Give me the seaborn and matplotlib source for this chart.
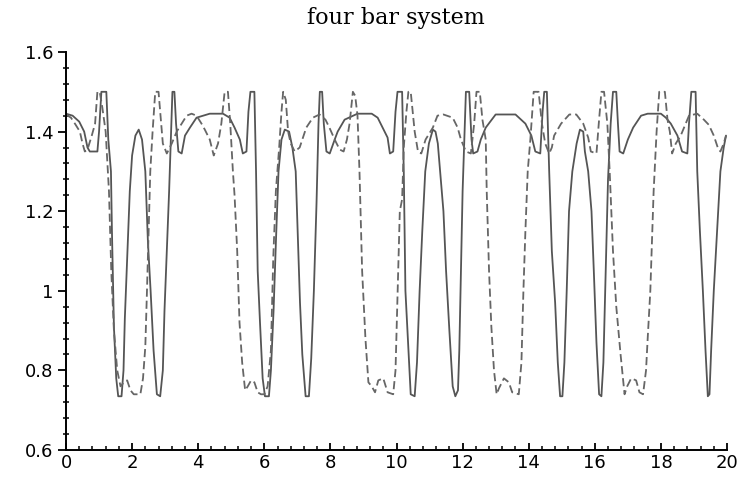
import matplotlib
matplotlib.use("Agg")
import matplotlib.pyplot as plt
from matplotlib.ticker import MultipleLocator
import seaborn as sns
import pandas as pd

title = "four bar system"

solid_pts = [
    (0.0, 1.445), (0.2, 1.44), (0.4, 1.425), (0.55, 1.40), (0.65, 1.36), (0.72, 1.35), (0.95, 1.35),
    (1.0, 1.40), (1.07, 1.50), (1.22, 1.50), (1.28, 1.38), (1.36, 1.30), (1.39, 1.15), (1.45, 0.91),
    (1.52, 0.78), (1.58, 0.735), (1.68, 0.735), (1.74, 0.80), (1.78, 0.93), (1.86, 1.10), (1.93, 1.25),
    (2.0, 1.34), (2.1, 1.39), (2.2, 1.405), (2.3, 1.38), (2.4, 1.30), (2.48, 1.12), (2.56, 1.00),
    (2.65, 0.85), (2.75, 0.74), (2.85, 0.735), (2.93, 0.80), (2.98, 0.95), (3.05, 1.10), (3.12, 1.25),
    (3.18, 1.40), (3.22, 1.50), (3.28, 1.50), (3.33, 1.42), (3.4, 1.35), (3.5, 1.345), (3.6, 1.39),
    (3.75, 1.41), (3.95, 1.435), (4.35, 1.445), (4.75, 1.445), (4.95, 1.435), (5.1, 1.41), (5.26, 1.38),
    (5.35, 1.345), (5.46, 1.35), (5.52, 1.45), (5.58, 1.50), (5.7, 1.50), (5.75, 1.30), (5.8, 1.05),
    (5.87, 0.92), (5.95, 0.78), (6.02, 0.735), (6.14, 0.735), (6.2, 0.80), (6.28, 0.95), (6.35, 1.12),
    (6.43, 1.30), (6.52, 1.38), (6.62, 1.405), (6.75, 1.40), (6.85, 1.36), (6.95, 1.30), (7.02, 1.12),
    (7.08, 0.97), (7.15, 0.84), (7.25, 0.735), (7.35, 0.735), (7.42, 0.83), (7.5, 1.0), (7.58, 1.22),
    (7.64, 1.42), (7.68, 1.50), (7.75, 1.50), (7.8, 1.42), (7.88, 1.35), (7.98, 1.345), (8.13, 1.38),
    (8.22, 1.40), (8.43, 1.43), (8.82, 1.445), (9.25, 1.445), (9.43, 1.435), (9.58, 1.41), (9.73, 1.385),
    (9.8, 1.345), (9.9, 1.35), (9.97, 1.45), (10.03, 1.50), (10.17, 1.50), (10.22, 1.30), (10.27, 1.0),
    (10.35, 0.87), (10.43, 0.74), (10.55, 0.735), (10.62, 0.82), (10.7, 1.0), (10.78, 1.15), (10.87, 1.30),
    (10.98, 1.37), (11.1, 1.405), (11.18, 1.40), (11.25, 1.37), (11.32, 1.30), (11.42, 1.20), (11.5, 1.05),
    (11.6, 0.90), (11.7, 0.76), (11.78, 0.735), (11.86, 0.75), (11.9, 0.85), (11.95, 1.05), (12.0, 1.25),
    (12.06, 1.40), (12.1, 1.50), (12.2, 1.50), (12.27, 1.38), (12.32, 1.345), (12.45, 1.35), (12.55, 1.38),
    (12.7, 1.41), (13.0, 1.443), (13.6, 1.443), (13.9, 1.42), (14.08, 1.39), (14.2, 1.35), (14.35, 1.345),
    (14.42, 1.45), (14.47, 1.50), (14.55, 1.50), (14.62, 1.30), (14.7, 1.10), (14.8, 0.97), (14.88, 0.82),
    (14.95, 0.735), (15.02, 0.735), (15.08, 0.82), (15.15, 1.00), (15.22, 1.20), (15.32, 1.30), (15.45, 1.37),
    (15.55, 1.405), (15.65, 1.40), (15.7, 1.35), (15.8, 1.30), (15.9, 1.20), (15.97, 1.05), (16.05, 0.87),
    (16.13, 0.74), (16.2, 0.735), (16.26, 0.82), (16.33, 1.05), (16.4, 1.28), (16.48, 1.42), (16.55, 1.50),
    (16.65, 1.50), (16.7, 1.42), (16.75, 1.35), (16.86, 1.345), (17.0, 1.38), (17.16, 1.41), (17.4, 1.44),
    (17.6, 1.445), (18.0, 1.445), (18.15, 1.435), (18.3, 1.42), (18.5, 1.39), (18.64, 1.35), (18.8, 1.345),
    (18.85, 1.42), (18.92, 1.50), (19.05, 1.50), (19.1, 1.30), (19.18, 1.15), (19.27, 1.0), (19.35, 0.85),
    (19.42, 0.735), (19.47, 0.74), (19.52, 0.85), (19.6, 1.0), (19.7, 1.15), (19.8, 1.30), (19.9, 1.36),
    (19.97, 1.39),
]

dashed_pts = [
    (0.0, 1.443), (0.15, 1.435), (0.27, 1.42), (0.42, 1.40), (0.5, 1.37), (0.57, 1.35), (0.65, 1.355),
    (0.78, 1.39), (0.88, 1.42), (0.95, 1.50), (1.02, 1.50), (1.1, 1.46), (1.2, 1.40), (1.3, 1.25),
    (1.37, 1.05), (1.45, 0.90), (1.55, 0.80), (1.65, 0.76), (1.75, 0.77), (1.85, 0.775), (1.95, 0.75),
    (2.05, 0.74), (2.25, 0.74), (2.33, 0.78), (2.4, 0.86), (2.45, 1.0), (2.5, 1.15), (2.55, 1.3),
    (2.62, 1.40), (2.7, 1.50), (2.8, 1.50), (2.88, 1.42), (2.93, 1.37), (3.05, 1.345), (3.2, 1.37),
    (3.35, 1.40), (3.5, 1.42), (3.65, 1.44), (3.8, 1.445), (3.95, 1.44), (4.1, 1.42), (4.2, 1.405),
    (4.35, 1.38), (4.47, 1.34), (4.6, 1.37), (4.7, 1.42), (4.8, 1.50), (4.9, 1.50), (4.97, 1.42),
    (5.05, 1.30), (5.1, 1.24), (5.18, 1.10), (5.25, 0.92), (5.33, 0.82), (5.42, 0.75), (5.5, 0.76),
    (5.6, 0.775), (5.7, 0.77), (5.8, 0.745), (5.9, 0.74), (6.0, 0.74), (6.1, 0.76), (6.2, 0.85),
    (6.27, 1.08), (6.35, 1.25), (6.45, 1.36), (6.52, 1.45), (6.57, 1.50), (6.65, 1.48), (6.72, 1.40),
    (6.8, 1.37), (6.92, 1.35), (7.07, 1.36), (7.27, 1.41), (7.47, 1.435), (7.67, 1.443), (7.85, 1.43),
    (7.97, 1.41), (8.13, 1.38), (8.28, 1.355), (8.4, 1.35), (8.5, 1.38), (8.58, 1.42), (8.68, 1.50),
    (8.75, 1.49), (8.82, 1.44), (8.88, 1.30), (8.96, 1.05), (9.06, 0.88), (9.15, 0.77), (9.25, 0.76),
    (9.35, 0.745), (9.45, 0.775), (9.6, 0.78), (9.73, 0.745), (9.9, 0.74), (9.97, 0.80), (10.03, 0.98),
    (10.1, 1.20), (10.17, 1.23), (10.22, 1.36), (10.3, 1.45), (10.36, 1.50), (10.43, 1.50), (10.55, 1.40),
    (10.65, 1.35), (10.75, 1.345), (10.88, 1.38), (11.1, 1.41), (11.24, 1.44), (11.42, 1.443), (11.7, 1.435),
    (11.85, 1.41), (11.95, 1.38), (12.1, 1.35), (12.25, 1.345), (12.35, 1.42), (12.42, 1.50), (12.52, 1.50),
    (12.6, 1.43), (12.7, 1.38), (12.73, 1.25), (12.8, 1.05), (12.87, 0.91), (12.95, 0.80), (13.03, 0.74),
    (13.1, 0.755), (13.25, 0.78), (13.4, 0.77), (13.5, 0.745), (13.7, 0.74), (13.78, 0.82), (13.84, 1.0),
    (13.9, 1.15), (13.97, 1.30), (14.05, 1.38), (14.15, 1.50), (14.3, 1.50), (14.4, 1.42), (14.5, 1.37),
    (14.62, 1.345), (14.7, 1.36), (14.77, 1.39), (14.98, 1.42), (15.23, 1.443), (15.44, 1.443), (15.65, 1.42),
    (15.8, 1.385), (15.88, 1.35), (16.05, 1.345), (16.12, 1.42), (16.2, 1.50), (16.28, 1.50), (16.38, 1.42),
    (16.45, 1.30), (16.55, 1.10), (16.65, 0.96), (16.78, 0.84), (16.9, 0.74), (16.98, 0.76), (17.1, 0.78),
    (17.25, 0.775), (17.35, 0.745), (17.46, 0.74), (17.55, 0.80), (17.6, 0.88), (17.68, 1.0), (17.78, 1.25),
    (17.87, 1.40), (17.95, 1.50), (18.12, 1.50), (18.2, 1.43), (18.27, 1.40), (18.34, 1.345), (18.45, 1.37),
    (18.6, 1.39), (18.7, 1.41), (18.85, 1.44), (19.1, 1.445), (19.3, 1.43), (19.45, 1.417), (19.6, 1.39),
    (19.72, 1.36), (19.8, 1.35), (19.9, 1.37), (19.97, 1.39),
]

x_ticks = [0, 2, 4, 6, 8, 10, 12, 14, 16, 18, 20]
x_tick_labels = ["0", "2", "4", "6", "8", "10", "12", "14", "16", "18", "20"]
y_ticks = [0.6, 0.8, 1.0, 1.2, 1.4, 1.6]
y_tick_labels = ["0.6", "0.8", "1", "1.2", "1.4", "1.6"]

rows = [("solid", x, y) for x, y in solid_pts] + [("dashed", x, y) for x, y in dashed_pts]
df = pd.DataFrame(rows, columns=["series", "t", "value"])

sns.set_theme(style="white")
plt.rcParams["font.family"] = ["DejaVu Sans"]

fig = plt.figure(figsize=(7.45, 4.82), dpi=100)
ax = fig.add_axes([66 / 745, 1 - 450 / 482, (727 - 66) / 745, (450 - 52) / 482])

sns.lineplot(data=df, x="t", y="value", hue="series", style="series",
             palette={"solid": "#555555", "dashed": "#666666"},
             dashes={"solid": "", "dashed": (4.5, 2.2)},
             sort=False, estimator=None, legend=False, linewidth=1.3, ax=ax)

ax.set_xlim(0, 20)
ax.set_ylim(0.6, 1.6)
ax.set_xlabel("")
ax.set_ylabel("")
ax.set_xticks(x_ticks)
ax.set_xticklabels(x_tick_labels)
ax.set_yticks(y_ticks)
ax.set_yticklabels(y_tick_labels)
ax.xaxis.set_minor_locator(MultipleLocator(0.4))
ax.yaxis.set_minor_locator(MultipleLocator(0.04))

for side in ["top", "right"]:
    ax.spines[side].set_visible(False)
for side in ["left", "bottom"]:
    ax.spines[side].set_color("black")
    ax.spines[side].set_linewidth(1.4)

ax.tick_params(axis="y", which="major", direction="out", length=6, width=1.3,
               colors="black", labelsize=13, pad=3, left=True)
ax.tick_params(axis="y", which="minor", direction="inout", length=5, width=1.1,
               colors="black", left=True)
ax.tick_params(axis="x", which="major", direction="in", length=5, width=1.3,
               colors="black", labelsize=13, pad=3, bottom=True)
ax.tick_params(axis="x", which="minor", direction="in", length=3, width=1.1,
               colors="black", bottom=True)

fig.text(396 / 745, 1 - 18 / 482, title, ha="center", va="center",
         fontsize=16, family=["DejaVu Serif"], color="black")

fig.savefig("out.png", dpi=100, facecolor="white")
